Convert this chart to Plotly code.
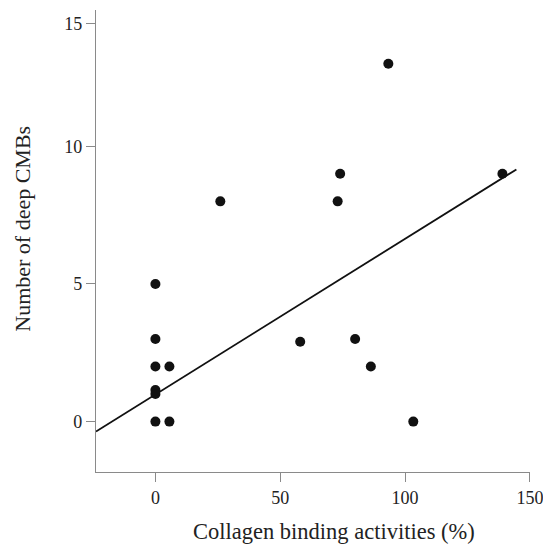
import plotly.graph_objects as go

# Data
collagen_binding = [0, 0, 0, 5.6, 0, 0, 0, 5.6, 26, 58, 73, 74, 80, 86.3, 93.3, 103.3, 139]
deep_cmbs = [5, 3, 2, 2, 1.15, 1.0, 0, 0, 8, 2.9, 8, 9, 3, 2, 13, 0, 9]

fit_x = [-23.8, 144.6]
fit_y = [-0.36, 9.16]

x_tickvals = [0, 50, 100, 150]
x_ticktext = ["0", "50", "100", "150"]
y_tickvals = [0, 5, 10, 14.45]
y_ticktext = ["0", "5", "10", "15"]

FONT = "Liberation Serif, Times New Roman, serif"

fig = go.Figure()
fig.add_trace(go.Scatter(
    x=fit_x, y=fit_y, mode="lines",
    line=dict(color="#111111", width=1.8), showlegend=False, hoverinfo="skip"))
fig.add_trace(go.Scatter(
    x=collagen_binding, y=deep_cmbs, mode="markers",
    marker=dict(color="#111111", size=10), showlegend=False))

axis_common = dict(
    showline=True, linecolor="#8a8a8a", linewidth=1.2,
    ticks="outside", ticklen=9, tickcolor="#8a8a8a", tickwidth=1.2,
    showgrid=False, zeroline=False,
    tickfont=dict(family=FONT, size=18, color="#222222"),
)

fig.update_layout(
    width=543, height=537,
    margin=dict(l=88, r=21, t=2, b=73),
    paper_bgcolor="white", plot_bgcolor="white",
    xaxis=dict(range=[-23.8, 150.05], tickvals=x_tickvals, ticktext=x_ticktext, **axis_common),
    yaxis=dict(range=[-1.83, 14.95], tickvals=y_tickvals, ticktext=y_ticktext, **axis_common),
    annotations=[
        dict(text="Collagen binding activities (%)", xref="paper", yref="paper",
             x=0.548, y=-0.128, xanchor="center", yanchor="middle", showarrow=False,
             font=dict(family=FONT, size=22.5, color="#222222")),
        dict(text="Number of deep CMBs", xref="paper", yref="paper",
             x=-0.17, y=0.527, xanchor="center", yanchor="middle", showarrow=False,
             textangle=-90, font=dict(family=FONT, size=22, color="#222222")),
    ],
)

fig.write_html("out.html")
